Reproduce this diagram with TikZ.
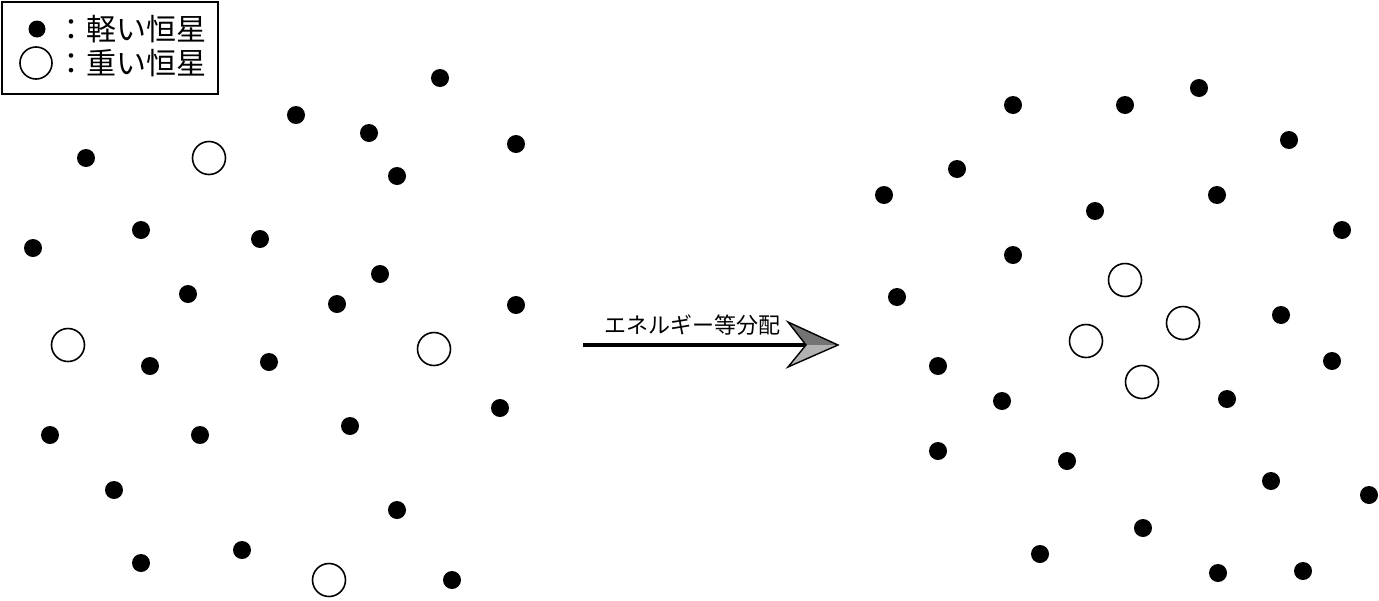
\documentclass[tikz,border=0pt]{standalone}
\usepackage{fontspec}
\newfontfamily\cjk{Noto Sans CJK JP}
\begin{document}
\begin{tikzpicture}[x=1pt,y=-1pt,
  light/.style={circle,fill=black,inner sep=0pt,minimum size=18pt},
  heavy/.style={circle,draw=black,line width=1.6pt,fill=white,inner sep=0pt,minimum size=33pt},
  lbl/.style={font=\cjk\fontsize{30}{30}\selectfont,anchor=west,inner sep=0pt}]
\useasboundingbox (0,0) rectangle (1379,600);
% legend
\node[draw=black,line width=1.5pt,minimum width=216pt,minimum height=92pt,inner sep=0pt] (legend) at (110,48) {};
\node[light,minimum size=17pt] (lgl) at (37,29) {};
\node[heavy,minimum size=32pt] (lgh) at (36,63) {};
\node[lbl] (tl) at (56,29) {：軽い恒星};
\node[lbl] (th) at (56,63) {：重い恒星};
% left light stars
\foreach \i/\x/\y in {1/440/78,2/296/115,3/369/133,4/516/144,5/86/158,6/397/176,7/141/230,8/260/239,9/33/248,10/380/274,11/188/294,12/337/304,13/516/305,14/150/366,15/269/362,16/500/408,17/50/435,18/200/435,19/350/426,20/114/490,21/397/510,22/242/550,23/141/563,24/452/580}
  \node[light] (l\i) at (\x,\y) {};
\foreach \i/\x/\y in {1/209/158,2/68/345,3/434/349,4/329/580}
  \node[heavy] (lh\i) at (\x,\y) {};
% right light stars
\foreach \i/\x/\y in {1/1013/105,2/1125/105,3/1199/88,4/1289/140,5/957/169,6/884/195,7/1217/195,8/1095/211,9/1342/230,10/1013/255,11/897/297,12/1281/315,13/938/366,14/1332/361,15/1002/401,16/1227/399,17/938/451,18/1067/461,19/1271/481,20/1369/495,21/1143/528,22/1040/554,23/1218/573,24/1303/571}
  \node[light] (r\i) at (\x,\y) {};
\foreach \i/\x/\y in {1/1125/280,2/1183/323,3/1086/341,4/1142/382}
  \node[heavy] (rh\i) at (\x,\y) {};
% arrow
\coordinate (as) at (583,345);
\coordinate (ae) at (806,345);
\coordinate (tip) at (838,345);
\draw[line width=3.2pt] (as) -- (ae);
\fill[black!55] (tip) -- (788,322) -- (ae) -- cycle;
\fill[black!30] (tip) -- (788,367) -- (ae) -- cycle;
\draw[line width=1.4pt,line join=miter] (tip) -- (788,322) -- (ae) -- (788,367) -- cycle;
\node[font=\cjk\fontsize{22}{22}\selectfont,inner sep=0pt] (albl) at (692,325) {エネルギー等分配};
\end{tikzpicture}
\end{document}
